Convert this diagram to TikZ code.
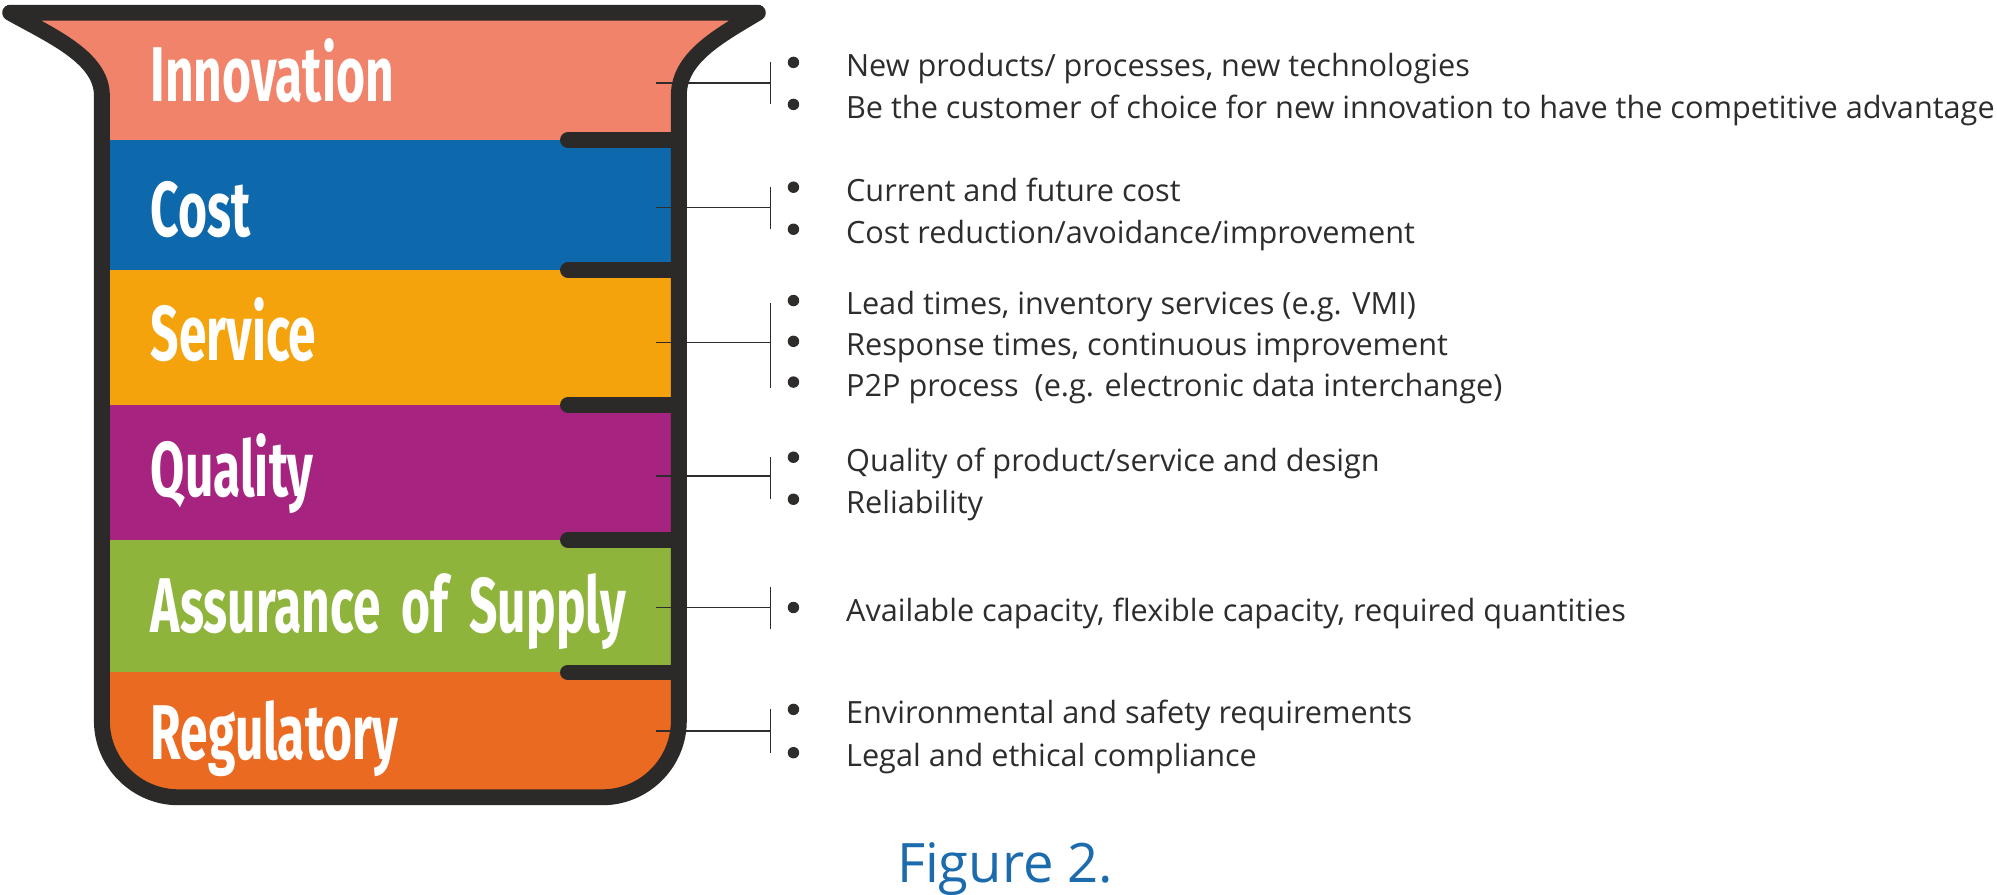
\documentclass[tikz,border=0pt]{standalone}
\usepackage{fontspec}
\setmainfont{Open Sans}
\newfontfamily\bandfont[FakeStretch=0.64,WordSpace=1.8]{Fira Sans}
\definecolor{rimgray}{HTML}{2B2A29}
\definecolor{textgray}{HTML}{2E2D2C}
\definecolor{innocol}{HTML}{F0836A}
\definecolor{costcol}{HTML}{0E68AC}
\definecolor{servcol}{HTML}{F5A30C}
\definecolor{qualcol}{HTML}{A6247F}
\definecolor{supcol}{HTML}{8FB43C}
\definecolor{regcol}{HTML}{EB6A22}
\definecolor{figblue}{HTML}{1C6BAD}
\def\beakerpath{(8,10) .. controls (40,28) and (80,45) .. (80,75) -- (80,566) .. controls (80,599) and (107,626) .. (140,626) -- (473,626) .. controls (506,626) and (533,599) .. (533,566) -- (533,75) .. controls (533,45) and (565,28) .. (595,10) -- cycle}
\begin{document}
\begin{tikzpicture}[x=0.02cm,y=-0.02cm,
  band/.style={font=\bandfont\bfseries\fontsize{34.7}{40}\selectfont,text=white,anchor=base west,inner sep=0},
  item/.style={font=\fontsize{13.7}{16}\selectfont,text=textgray,anchor=base west,inner sep=0},
  dot/.style={circle,fill=textgray,inner sep=0,minimum size=0.18cm},
  link/.style={draw=textgray,line width=0.8pt},
  rim/.style={draw=rimgray,line width=0.25cm,line join=round}]
\useasboundingbox (0,0) rectangle (1568,702);
\begin{scope}
\clip \beakerpath;
\fill[innocol] (0,0) rectangle (600,110);
\fill[costcol] (0,110) rectangle (600,212);
\fill[servcol] (0,212) rectangle (600,318);
\fill[qualcol] (0,318) rectangle (600,424);
\fill[supcol] (0,424) rectangle (600,528);
\fill[regcol] (0,528) rectangle (600,640);
\end{scope}
\coordinate (innoL) at (515,65);
\coordinate (costL) at (515,163);
\coordinate (servL) at (515,269);
\coordinate (qualL) at (515,374);
\coordinate (supL) at (515,477);
\coordinate (regL) at (515,574);
\coordinate (innoB) at (605,65);
\coordinate (costB) at (605,163);
\coordinate (servB) at (605,269);
\coordinate (qualB) at (605,374);
\coordinate (supB) at (605,477);
\coordinate (regB) at (605,574);
\draw[link] (innoL) -- (innoB);
\draw[link] (costL) -- (costB);
\draw[link] (servL) -- (servB);
\draw[link] (qualL) -- (qualB);
\draw[link] (supL) -- (supB);
\draw[link] (regL) -- (regB);
\draw[rim] \beakerpath;
\foreach \y in {110,212,318,424,528}
  \draw[rim,line cap=round] (446,\y) -- (533,\y);
\node[band] (innovation) at (118,80) {Innovation};
\node[band] (cost) at (118,186) {Cost};
\node[band] (service) at (118,283) {Service};
\node[band] (quality) at (118,390) {Quality};
\node[band] (supply) at (118,497) {Assurance of Supply};
\node[band] (regulatory) at (118,596) {Regulatory};
\node[dot] (inno1d) at (623,49) {};
\node[dot] (inno2d) at (623,82) {};
\node[item] (inno1) at (664,60) {New products/ processes, new technologies};
\node[item] (inno2) at (664,93) {Be the customer of choice for new innovation to have the competitive advantage};
\node[dot] (cost1d) at (623,147) {};
\node[dot] (cost2d) at (623,180) {};
\node[item] (cost1) at (664,158) {Current and future cost};
\node[item] (cost2) at (664,191) {Cost reduction/avoidance/improvement};
\node[dot] (serv1d) at (623,236) {};
\node[dot] (serv2d) at (623,268) {};
\node[dot] (serv3d) at (623,300) {};
\node[item] (serv1) at (664,247) {Lead times, inventory services (e.g. VMI)};
\node[item] (serv2) at (664,279) {Response times, continuous improvement};
\node[item] (serv3) at (664,311) {P2P process\ \ (e.g. electronic data interchange)};
\node[dot] (qual1d) at (623,359) {};
\node[dot] (qual2d) at (623,392) {};
\node[item] (qual1) at (664,370) {Quality of product/service and design};
\node[item] (qual2) at (664,403) {Reliability};
\node[dot] (sup1d) at (623,477) {};
\node[item] (sup1) at (664,488) {Available capacity, flexible capacity, required quantities};
\node[dot] (reg1d) at (623,557) {};
\node[dot] (reg2d) at (623,591) {};
\node[item] (reg1) at (664,568) {Environmental and safety requirements};
\node[item] (reg2) at (664,602) {Legal and ethical compliance};
\draw[link] (innoB |- inno1d) -- (innoB |- inno2d);
\draw[link] (costB |- cost1d) -- (costB |- cost2d);
\draw[link] ([yshift=-0.04cm]servB |- serv1d) -- ([yshift=-0.1cm]servB |- serv3d);
\draw[link] (qualB |- qual1d) -- (qualB |- qual2d);
\draw[link] ([yshift=0.32cm]supB) -- ([yshift=-0.34cm]supB);
\draw[link] (regB |- reg1d) -- (regB |- reg2d);
\node[font=\fontsize{24.3}{28}\selectfont,text=figblue,anchor=base west,inner sep=0] (figure) at (704,693) {Figure 2.};
\end{tikzpicture}
\end{document}
